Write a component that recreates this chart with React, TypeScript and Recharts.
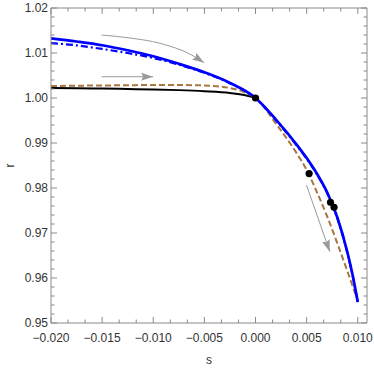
import React from 'react';
import { ComposedChart, Line, Scatter, XAxis, YAxis } from 'recharts';

// ---- data ----
const sGrid = [-0.02, -0.0175, -0.015, -0.0125, -0.01, -0.0075, -0.005, -0.0025, 0, 0.002, 0.004, 0.005, 0.006, 0.007, 0.008, 0.009, 0.0095, 0.01];
const blueSolid = [1.01327, 1.01256, 1.01173, 1.0106, 1.00927, 1.0076, 1.00571, 1.00335, 1.0, 0.9952, 0.9897, 0.98665, 0.9832, 0.97905, 0.97345, 0.96555, 0.9606, 0.95465];
const blueDashDot = [1.0122, 1.0117, 1.0109, 1.01, 1.0089, 1.0074, 1.0056, 1.0033, 1.0, 0.99505, 0.98955, 0.9865, 0.98305, 0.9789, 0.9733, 0.9654, 0.96045, 0.9545];

const brownS = [-0.02, -0.0175, -0.015, -0.0125, -0.01, -0.0075, -0.005, -0.0025, -0.001, 0, 0.002, 0.004, 0.005, 0.006, 0.007, 0.008, 0.009, 0.0095, 0.01];
const brownR = [1.00267, 1.00273, 1.00278, 1.00284, 1.00289, 1.00289, 1.00278, 1.00222, 1.0012, 1.0, 0.9943, 0.9878, 0.984, 0.9791, 0.9737, 0.9677, 0.9614, 0.95818, 0.9549];

const blackS = [-0.02, -0.0175, -0.015, -0.0125, -0.01, -0.0075, -0.005, -0.0025, -0.001, 0];
const blackR = [1.0022, 1.00215, 1.0021, 1.002, 1.0019, 1.00175, 1.0015, 1.0011, 1.0006, 1.0];

const dotS = [0, 0.00524, 0.00733, 0.00768];
const dotR = [1.0, 0.9832, 0.97682, 0.97571];

const arrow1S = [-0.01505, -0.01228, -0.00935, -0.00625, -0.00502];
const arrow1R = [1.014, 1.01333, 1.01216, 1.00956, 1.00784];
const arrow2S = [-0.01505, -0.01001];
const arrow2R = [1.00473, 1.00473];
const arrow3S = [0.00498, 0.00726];
const arrow3R = [0.98067, 0.96584];

const xTicks = [-0.02, -0.018333, -0.016667, -0.015, -0.013333, -0.011667, -0.01, -0.008333, -0.006667, -0.005, -0.003333, -0.001667, 0, 0.001667, 0.003333, 0.005, 0.006667, 0.008333, 0.01];
const xMajor = [-0.02, -0.015, -0.01, -0.005, 0, 0.005, 0.01];
const yTicks = [0.95, 0.952, 0.954, 0.956, 0.958, 0.96, 0.962, 0.964, 0.966, 0.968, 0.97, 0.972, 0.974, 0.976, 0.978, 0.98, 0.982, 0.984, 0.986, 0.988, 0.99, 0.992, 0.994, 0.996, 0.998, 1.0, 1.002, 1.004, 1.006, 1.008, 1.01, 1.012, 1.014, 1.016, 1.018, 1.02];
const yMajor = [0.95, 0.96, 0.97, 0.98, 0.99, 1.0, 1.01, 1.02];

const X_DOMAIN = [-0.02, 0.0109];
const Y_DOMAIN = [0.95, 1.02];

const toPts = (xs: number[], ys: number[]) => xs.map((s, i) => ({ s, r: ys[i] }));
const blueSolidData = toPts(sGrid, blueSolid);
const blueDashDotData = toPts(sGrid, blueDashDot);
const brownData = toPts(brownS, brownR);
const blackData = toPts(blackS, blackR);
const dotData = toPts(dotS, dotR);
const arrow1Data = toPts(arrow1S, arrow1R);
const arrow2Data = toPts(arrow2S, arrow2R);
const arrow3Data = toPts(arrow3S, arrow3R);

// ---- styles ----
const FRAME = '#8a8a8a';
const TEXT = '#333333';
const FONT = '"Liberation Sans", Arial, sans-serif';
const ARROW = '#9a9a9a';
const MAJOR_LEN = 6;
const MINOR_LEN = 3.5;

const isMajor = (list: number[], v: number) => list.some((m) => Math.abs(m - v) < 1e-6);
const fmtX = (v: number) => (Math.abs(v) < 1e-9 ? '0.000' : v.toFixed(3).replace('-', '\u2212'));

const BottomTick = (props: any) => {
  const { x, y, payload } = props;
  const major = isMajor(xMajor, payload.value);
  return (
    <g>
      <line x1={x} x2={x} y1={y} y2={y - (major ? MAJOR_LEN : MINOR_LEN)} stroke={FRAME} strokeWidth={1} />
      {major && (
        <text x={x} y={y + 19} textAnchor="middle" fill={TEXT} fontSize={12} fontFamily={FONT}>
          {fmtX(payload.value)}
        </text>
      )}
    </g>
  );
};

const TopTick = (props: any) => {
  const { x, y, payload } = props;
  const major = isMajor(xMajor, payload.value);
  return <line x1={x} x2={x} y1={y} y2={y + (major ? MAJOR_LEN : MINOR_LEN)} stroke={FRAME} strokeWidth={1} />;
};

const LeftTick = (props: any) => {
  const { x, y, payload } = props;
  const major = isMajor(yMajor, payload.value);
  return (
    <g>
      <line x1={x} x2={x + (major ? MAJOR_LEN : MINOR_LEN)} y1={y} y2={y} stroke={FRAME} strokeWidth={1} />
      {major && (
        <text x={x - 3} y={y + 4.3} textAnchor="end" fill={TEXT} fontSize={12} fontFamily={FONT}>
          {payload.value.toFixed(2)}
        </text>
      )}
    </g>
  );
};

const RightTick = (props: any) => {
  const { x, y, payload } = props;
  const major = isMajor(yMajor, payload.value);
  return <line x1={x} x2={x - (major ? MAJOR_LEN : MINOR_LEN)} y1={y} y2={y} stroke={FRAME} strokeWidth={1} />;
};

const DotShape = (props: any) => <circle cx={props.cx} cy={props.cy} r={3.6} fill="#000" />;

export default function App() {
  return (
    <div style={{ position: 'absolute', left: 0, top: 0, width: 374, height: 370, background: '#fff' }}>
      <ComposedChart width={374} height={370} margin={{ top: 0, right: 0, bottom: 0, left: 0 }} style={{ fontFamily: FONT }}>
        <defs>
          <marker id="ah" viewBox="0 0 12 8" refX="12" refY="4" markerWidth="12" markerHeight="8" markerUnits="userSpaceOnUse" orient="auto">
            <path d="M0,0 L12,4 L0,8 L2,4 z" fill={ARROW} />
          </marker>
        </defs>
        <XAxis
          xAxisId="b"
          orientation="bottom"
          type="number"
          dataKey="s"
          domain={X_DOMAIN}
          ticks={xTicks}
          interval={0}
          height={47}
          tickLine={false}
          tickSize={0}
          tickMargin={0}
          axisLine={{ stroke: FRAME }}
          tick={BottomTick}
          allowDataOverflow
          label={{ value: 's', position: 'insideBottom', offset: 6, fill: TEXT, fontSize: 12, fontFamily: FONT }}
        />
        <XAxis
          xAxisId="t"
          orientation="top"
          type="number"
          dataKey="s"
          domain={X_DOMAIN}
          ticks={xTicks}
          interval={0}
          height={8}
          tickLine={false}
          tickSize={0}
          tickMargin={0}
          axisLine={{ stroke: FRAME }}
          tick={TopTick}
          allowDataOverflow
        />
        <YAxis
          yAxisId="l"
          orientation="left"
          type="number"
          dataKey="r"
          domain={Y_DOMAIN}
          ticks={yTicks}
          interval={0}
          width={51}
          tickLine={false}
          tickSize={0}
          tickMargin={0}
          axisLine={{ stroke: FRAME }}
          tick={LeftTick}
          allowDataOverflow
          label={{ value: 'r', angle: -90, position: 'insideLeft', offset: 10, fill: TEXT, fontSize: 12, fontFamily: FONT, style: { textAnchor: 'middle' } }}
        />
        <YAxis
          yAxisId="rt"
          orientation="right"
          type="number"
          dataKey="r"
          domain={Y_DOMAIN}
          ticks={yTicks}
          interval={0}
          width={7}
          tickLine={false}
          tickSize={0}
          tickMargin={0}
          axisLine={{ stroke: FRAME }}
          tick={RightTick}
          allowDataOverflow
        />

        <Line xAxisId="b" yAxisId="l" data={blackData} dataKey="r" type="monotone" stroke="#000" strokeWidth={2} dot={false} activeDot={false} isAnimationActive={false} />
        <Line xAxisId="b" yAxisId="l" data={brownData} dataKey="r" type="monotone" stroke="#a97540" strokeWidth={2} strokeDasharray="6 3" dot={false} activeDot={false} isAnimationActive={false} />
        <Line xAxisId="b" yAxisId="l" data={blueDashDotData} dataKey="r" type="monotone" stroke="#0000ff" strokeWidth={2.2} strokeDasharray="7 3 2 3" dot={false} activeDot={false} isAnimationActive={false} />
        <Line xAxisId="b" yAxisId="l" data={blueSolidData} dataKey="r" type="monotone" stroke="#0000ff" strokeWidth={2.7} dot={false} activeDot={false} isAnimationActive={false} />

        <Line xAxisId="b" yAxisId="l" data={arrow1Data} dataKey="r" type="monotone" stroke={ARROW} strokeWidth={1} markerEnd="url(#ah)" dot={false} activeDot={false} isAnimationActive={false} />
        <Line xAxisId="b" yAxisId="l" data={arrow2Data} dataKey="r" type="linear" stroke={ARROW} strokeWidth={1} markerEnd="url(#ah)" dot={false} activeDot={false} isAnimationActive={false} />
        <Line xAxisId="b" yAxisId="l" data={arrow3Data} dataKey="r" type="linear" stroke={ARROW} strokeWidth={1} markerEnd="url(#ah)" dot={false} activeDot={false} isAnimationActive={false} />

        <Scatter xAxisId="b" yAxisId="l" data={dotData} dataKey="r" shape={DotShape} isAnimationActive={false} />
      </ComposedChart>
    </div>
  );
}
